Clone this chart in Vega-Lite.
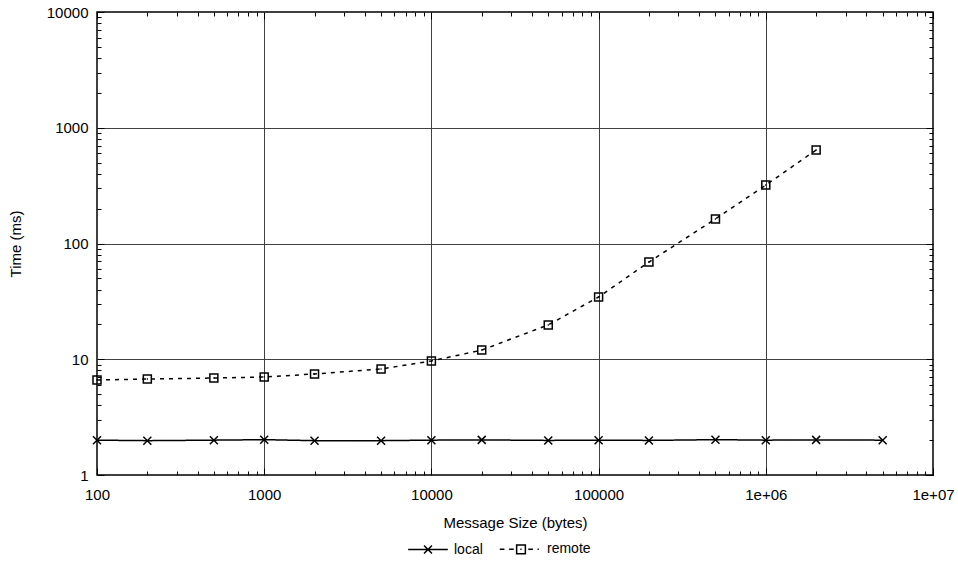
{
  "$schema": "https://vega.github.io/schema/vega-lite/v6.json",
  "width": 836,
  "height": 463,
  "autosize": "none",
  "padding": {"left": 97, "top": 12, "right": 25, "bottom": 90},
  "background": "white",
  "config": {
    "font": "Liberation Sans",
    "view": {"stroke": "black", "strokeWidth": 1.5},
    "axis": {"labelFont": "Liberation Sans", "titleFont": "Liberation Sans", "labelFontSize": 15, "titleFontSize": 15, "titleFontWeight": "normal", "labelColor": "black", "titleColor": "black", "domain": false, "tickColor": "black", "tickWidth": 1, "gridColor": "#404040", "gridWidth": 1, "labelFlush": false, "labelOverlap": false},
    "legend": {"labelFont": "Liberation Sans", "labelFontSize": 14, "labelColor": "black", "padding": 0}
  },
  "data": {"values": [
    {"size": 100, "time": 2.0, "series": "local"},
    {"size": 200, "time": 1.98, "series": "local"},
    {"size": 500, "time": 2.0, "series": "local"},
    {"size": 1000, "time": 2.02, "series": "local"},
    {"size": 2000, "time": 1.98, "series": "local"},
    {"size": 5000, "time": 1.98, "series": "local"},
    {"size": 10000, "time": 2.0, "series": "local"},
    {"size": 20000, "time": 2.01, "series": "local"},
    {"size": 50000, "time": 1.99, "series": "local"},
    {"size": 100000, "time": 2.0, "series": "local"},
    {"size": 200000, "time": 1.99, "series": "local"},
    {"size": 500000, "time": 2.02, "series": "local"},
    {"size": 1000000, "time": 2.0, "series": "local"},
    {"size": 2000000, "time": 2.01, "series": "local"},
    {"size": 5000000, "time": 2.0, "series": "local"},
    {"size": 100, "time": 6.62, "series": "remote"},
    {"size": 200, "time": 6.75, "series": "remote"},
    {"size": 500, "time": 6.88, "series": "remote"},
    {"size": 1000, "time": 7.03, "series": "remote"},
    {"size": 2000, "time": 7.46, "series": "remote"},
    {"size": 5000, "time": 8.24, "series": "remote"},
    {"size": 10000, "time": 9.66, "series": "remote"},
    {"size": 20000, "time": 12.0, "series": "remote"},
    {"size": 50000, "time": 19.8, "series": "remote"},
    {"size": 100000, "time": 34.5, "series": "remote"},
    {"size": 200000, "time": 69.2, "series": "remote"},
    {"size": 500000, "time": 163, "series": "remote"},
    {"size": 1000000, "time": 320, "series": "remote"},
    {"size": 2000000, "time": 642, "series": "remote"}
  ]},
  "resolve": {"axis": {"x": "independent", "y": "independent"}, "scale": {"shape": "independent"}},
  "layer": [
    {
      "mark": {"type": "line", "color": "black", "strokeWidth": 1.5},
      "encoding": {
        "x": {"field": "size", "type": "quantitative", "scale": {"type": "log", "domain": [100, 10000000]},
          "axis": {"orient": "bottom", "title": "Message Size (bytes)", "titlePadding": 10,
            "values": [100,200,300,400,500,600,700,800,900,1000,2000,3000,4000,5000,6000,7000,8000,9000,10000,20000,30000,40000,50000,60000,70000,80000,90000,100000,200000,300000,400000,500000,600000,700000,800000,900000,1000000,2000000,3000000,4000000,5000000,6000000,7000000,8000000,9000000,10000000],
            "labelExpr": "datum.value==1000000?'1e+06':datum.value==10000000?'1e+07':(indexof([100,1000,10000,100000],datum.value)>=0?format(datum.value,'d'):'')",
            "labelPadding": 19,
            "tickSize": {"condition": {"test": "indexof([100,1000,10000,100000,1000000,10000000],datum.value)>=0", "value": -7}, "value": -4},
            "grid": true,
            "gridOpacity": {"condition": {"test": "indexof([100,1000,10000,100000,1000000,10000000],datum.value)>=0", "value": 1}, "value": 0}
          }},
        "y": {"field": "time", "type": "quantitative", "scale": {"type": "log", "domain": [1, 10000]},
          "axis": {"orient": "left", "title": "Time (ms)", "titlePadding": 23,
            "values": [1,2,3,4,5,6,7,8,9,10,20,30,40,50,60,70,80,90,100,200,300,400,500,600,700,800,900,1000,2000,3000,4000,5000,6000,7000,8000,9000,10000],
            "labelExpr": "indexof([1,10,100,1000,10000],datum.value)>=0?format(datum.value,'d'):''",
            "labelPadding": 16,
            "tickSize": {"condition": {"test": "indexof([1,10,100,1000,10000],datum.value)>=0", "value": -7}, "value": -4},
            "grid": true,
            "gridOpacity": {"condition": {"test": "indexof([1,10,100,1000,10000],datum.value)>=0", "value": 1}, "value": 0}
          }},
        "detail": {"field": "series", "type": "nominal"},
        "strokeDash": {"condition": {"test": "datum.series === 'remote'", "value": [4, 5]}, "value": [1, 0]}
      }
    },
    {
      "mark": {"type": "point", "filled": false, "color": "black", "strokeWidth": 1.5, "size": 64, "opacity": 1},
      "encoding": {
        "x": {"field": "size", "type": "quantitative",
          "axis": {"orient": "top", "title": null, "labels": false, "grid": false,
            "values": [100,200,300,400,500,600,700,800,900,1000,2000,3000,4000,5000,6000,7000,8000,9000,10000,20000,30000,40000,50000,60000,70000,80000,90000,100000,200000,300000,400000,500000,600000,700000,800000,900000,1000000,2000000,3000000,4000000,5000000,6000000,7000000,8000000,9000000,10000000],
            "tickSize": {"condition": {"test": "indexof([100,1000,10000,100000,1000000,10000000],datum.value)>=0", "value": -7}, "value": -4}}},
        "y": {"field": "time", "type": "quantitative",
          "axis": {"orient": "right", "title": null, "labels": false, "grid": false,
            "values": [1,2,3,4,5,6,7,8,9,10,20,30,40,50,60,70,80,90,100,200,300,400,500,600,700,800,900,1000,2000,3000,4000,5000,6000,7000,8000,9000,10000],
            "tickSize": {"condition": {"test": "indexof([1,10,100,1000,10000],datum.value)>=0", "value": -7}, "value": -4}}},
        "shape": {"field": "series", "type": "nominal", "legend": null,
          "scale": {"domain": ["local", "remote"], "range": ["M-1,-1L1,1M-1,1L1,-1", "M-1,-1H1V1H-1ZM-0.15,0H0.15"]}}
      }
    },
    {
      "mark": {"type": "point", "filled": false, "color": "black", "strokeWidth": 1.5, "size": 64, "opacity": 0},
      "encoding": {
        "x": {"field": "size", "type": "quantitative", "axis": null},
        "y": {"field": "time", "type": "quantitative", "axis": null},
        "shape": {"field": "series", "type": "nominal",
          "scale": {"domain": ["local", "remote"], "range": ["M-1.5,0H1.5M-0.3,-0.3L0.3,0.3M-0.3,0.3L0.3,-0.3", "M-1.6,0H-1.25M-0.9,0H-0.55M-0.33,-0.33H0.33V0.33H-0.33ZM-0.05,0H0.05M0.55,0H0.9M1.25,0H1.35"]},
          "legend": {"orient": "none", "legendX": 317, "legendY": 523, "title": null, "direction": "horizontal", "symbolSize": 700, "columnPadding": 13, "labelOffset": 12, "symbolStrokeWidth": 1.5, "symbolStrokeColor": "black", "symbolFillColor": "transparent", "symbolOpacity": 1}}
      }
    }
  ]
}
